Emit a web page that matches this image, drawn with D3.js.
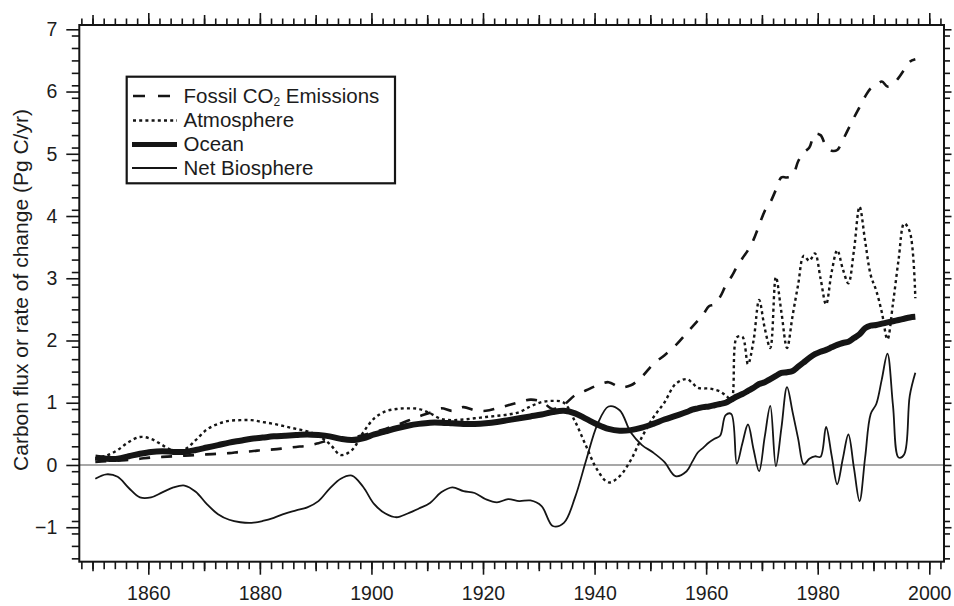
<!DOCTYPE html>
<html>
<head>
<meta charset="utf-8">
<script src="https://cdn.jsdelivr.net/npm/d3@7"></script>
<style>
  html, body { margin: 0; padding: 0; background: #fff; }
  svg { display: block; font-family: "Liberation Sans", Arial, Helvetica, sans-serif; }
</style>
</head>
<body>
<svg id="chart" width="954" height="606"></svg>
<script>
// Years: two-yearly reconstruction before 1957, annual afterwards
const years = [
  1850,1852,1854,1856,1858,1860,1862,1864,1866,1868,1870,1872,1874,1876,1878,
  1880,1882,1884,1886,1888,1890,1892,1894,1896,1898,1900,1902,1904,1906,1908,
  1910,1912,1914,1916,1918,1920,1922,1924,1926,1928,1930,1932,1934,1936,1938,
  1940,1942,1944,1946,1948,1950,1952,1954,1956,
  1957,1958,1959,1960,1961,1962,1963,1964,1965,1966,1967,1968,1969,1970,1971,
  1972,1973,1974,1975,1976,1977,1978,1979,1980,1981,1982,1983,1984,1985,1986,
  1987,1988,1989,1990,1991,1992,1993,1994,1995,1996,1997
];

// Fossil CO2 emissions (Pg C/yr)
const fossil = [
  0.05,0.06,0.07,0.08,0.10,0.12,0.13,0.14,0.15,0.16,0.17,0.18,0.19,0.21,0.22,
  0.24,0.25,0.27,0.29,0.31,0.35,0.40,0.41,0.44,0.48,0.53,0.58,0.64,0.71,0.78,
  0.84,0.91,0.87,0.93,0.88,0.87,0.91,0.96,1.01,1.05,1.02,0.90,0.97,1.12,1.20,
  1.28,1.33,1.25,1.28,1.42,1.62,1.76,1.92,2.12,
  2.22,2.32,2.42,2.55,2.58,2.70,2.88,3.02,3.18,3.32,3.45,3.62,3.85,4.08,4.22,
  4.42,4.62,4.62,4.65,4.88,5.02,5.10,5.32,5.30,5.12,5.05,5.06,5.22,5.40,5.58,
  5.75,5.92,6.05,6.10,6.16,6.08,6.12,6.22,6.35,6.48,6.52
];

// Atmospheric increase (Pg C/yr)
const atmosphere = [
  0.11,0.15,0.24,0.37,0.45,0.42,0.32,0.23,0.25,0.40,0.57,0.66,0.71,0.72,0.72,
  0.69,0.66,0.62,0.58,0.54,0.47,0.34,0.16,0.24,0.52,0.75,0.86,0.90,0.91,0.90,
  0.83,0.74,0.72,0.73,0.75,0.77,0.79,0.81,0.85,0.94,1.01,1.03,1.00,0.70,0.30,
  -0.08,-0.28,-0.18,0.08,0.45,0.76,1.00,1.30,1.38,
  1.32,1.24,1.23,1.23,1.21,1.18,1.12,1.05,2.05,2.06,1.62,2.00,2.65,2.20,1.88,
  3.02,2.45,1.88,2.40,2.90,3.36,3.28,3.40,3.00,2.58,3.10,3.45,3.15,2.92,3.45,
  4.15,3.60,3.05,2.80,2.45,2.02,2.60,3.30,3.88,3.75,2.68
];

// Ocean uptake (Pg C/yr)
const ocean = [
  0.12,0.10,0.10,0.14,0.18,0.21,0.22,0.21,0.21,0.24,0.28,0.32,0.36,0.39,0.42,
  0.44,0.46,0.47,0.48,0.49,0.48,0.46,0.42,0.40,0.43,0.49,0.54,0.59,0.63,0.66,
  0.68,0.68,0.67,0.66,0.66,0.67,0.69,0.72,0.75,0.78,0.81,0.85,0.87,0.83,0.74,
  0.65,0.58,0.55,0.56,0.60,0.66,0.73,0.79,0.85,
  0.89,0.91,0.93,0.94,0.96,0.98,1.00,1.05,1.10,1.14,1.19,1.24,1.30,1.33,1.38,
  1.43,1.48,1.49,1.51,1.58,1.65,1.72,1.78,1.82,1.85,1.89,1.93,1.96,1.98,2.04,
  2.10,2.20,2.24,2.25,2.27,2.29,2.31,2.33,2.35,2.37,2.38
];

// Net terrestrial biosphere flux (Pg C/yr)
const biosphere = [
  -0.22,-0.15,-0.19,-0.37,-0.52,-0.52,-0.44,-0.36,-0.33,-0.43,-0.63,-0.79,-0.88,-0.92,-0.93,
  -0.90,-0.85,-0.78,-0.73,-0.68,-0.58,-0.38,-0.22,-0.17,-0.35,-0.63,-0.78,-0.84,-0.78,-0.70,
  -0.61,-0.44,-0.36,-0.42,-0.45,-0.55,-0.60,-0.55,-0.58,-0.57,-0.66,-0.98,-0.93,-0.52,0.08,
  0.65,0.94,0.88,0.52,0.32,0.20,0.05,-0.18,-0.10,
  0.05,0.20,0.28,0.36,0.42,0.47,0.80,0.82,0.02,0.35,0.65,0.25,-0.10,0.45,0.95,
  -0.02,0.60,1.25,0.85,0.42,0.01,0.10,0.14,0.13,0.61,0.15,-0.31,0.10,0.49,-0.05,
  -0.58,0.12,0.82,0.98,1.38,1.79,0.95,0.12,0.17,1.11,1.48
];

const xTickLabels = [1860, 1880, 1900, 1920, 1940, 1960, 1980, 2000];
const yTickLabels = [-1, 0, 1, 2, 3, 4, 5, 6, 7];
const yLabel = "Carbon flux or rate of change (Pg C/yr)";

const seriesList = [
  { name: "Fossil CO2 Emissions", values: fossil,     width: 2.6, dash: "11,11" },
  { name: "Atmosphere",           values: atmosphere, width: 2.4, dash: "3,3.2" },
  { name: "Ocean",                values: ocean,      width: 6,   dash: null },
  { name: "Net Biosphere",        values: biosphere,  width: 1.8, dash: null }
];

// ---- layout ----
const frame = { left: 79.3, right: 944, top: 25, bottom: 561.7 };
const ink = "#151515";

const svg = d3.select("#chart");

const x = d3.scaleLinear().domain([1847.63, 2002.64]).range([frame.left, frame.right]);
const y = d3.scaleLinear().domain([-1.554, 7.069]).range([frame.bottom, frame.top]);

const evenYears = d3.range(1848, 2003, 2);
const decadeYears = evenYears.filter(v => v % 10 === 0 && v % 20 !== 0);
const fifthSteps = d3.range(-15, 71, 2).map(v => v / 10).filter(v => !Number.isInteger(v));

function styleAxis(g) {
  g.select(".domain").remove();
  g.selectAll("line").attr("stroke", ink).attr("stroke-width", 1.6);
  g.selectAll("text").attr("fill", "#1c1c1c").style("font-size", "19.5px");
}

// zero reference line
svg.append("line")
  .attr("x1", frame.left).attr("x2", frame.right)
  .attr("y1", y(0)).attr("y2", y(0))
  .attr("stroke", "#8a8a8a").attr("stroke-width", 1.5);

// bottom axis
svg.append("g").attr("transform", `translate(0,${frame.bottom})`)
  .call(d3.axisBottom(x).tickValues(evenYears).tickFormat("").tickSize(7.5)).call(styleAxis);
svg.append("g").attr("transform", `translate(0,${frame.bottom})`)
  .call(d3.axisBottom(x).tickValues(decadeYears).tickFormat("").tickSize(9.5)).call(styleAxis);
svg.append("g").attr("transform", `translate(0,${frame.bottom})`)
  .call(d3.axisBottom(x).tickValues(xTickLabels).tickFormat(d3.format("d")).tickSize(13).tickPadding(11))
  .call(styleAxis);

// top axis (ticks only)
svg.append("g").attr("transform", `translate(0,${frame.top})`)
  .call(d3.axisTop(x).tickValues(evenYears).tickFormat("").tickSize(6.5)).call(styleAxis);
svg.append("g").attr("transform", `translate(0,${frame.top})`)
  .call(d3.axisTop(x).tickValues(decadeYears).tickFormat("").tickSize(10)).call(styleAxis);
svg.append("g").attr("transform", `translate(0,${frame.top})`)
  .call(d3.axisTop(x).tickValues(xTickLabels).tickFormat("").tickSize(12)).call(styleAxis);

// left axis
svg.append("g").attr("transform", `translate(${frame.left},0)`)
  .call(d3.axisLeft(y).tickValues(fifthSteps).tickFormat("").tickSize(7.5)).call(styleAxis);
svg.append("g").attr("transform", `translate(${frame.left},0)`)
  .call(d3.axisLeft(y).tickValues(yTickLabels).tickFormat(d3.format("d")).tickSize(13).tickPadding(9))
  .call(styleAxis);

// right axis (ticks only)
svg.append("g").attr("transform", `translate(${frame.right},0)`)
  .call(d3.axisRight(y).tickValues(fifthSteps).tickFormat("").tickSize(6)).call(styleAxis);
svg.append("g").attr("transform", `translate(${frame.right},0)`)
  .call(d3.axisRight(y).tickValues(yTickLabels).tickFormat("").tickSize(7.5)).call(styleAxis);

// y axis title
svg.append("text")
  .attr("transform", `translate(27.5,290) rotate(-90)`)
  .attr("text-anchor", "middle")
  .attr("fill", "#1c1c1c")
  .style("font-size", "21px")
  .text(yLabel);

// series
const line = d3.line()
  .x(d => x(d.year + 0.5))
  .y(d => y(d.value))
  .curve(d3.curveCatmullRom.alpha(0.5));

const drawOrder = [3, 0, 1, 2];
drawOrder.forEach(i => {
  const s = seriesList[i];
  const pts = years.map((yr, k) => ({ year: yr, value: s.values[k] }));
  svg.append("path")
    .datum(pts)
    .attr("d", line)
    .attr("fill", "none")
    .attr("stroke", ink)
    .attr("stroke-width", s.width)
    .attr("stroke-linecap", "butt")
    .attr("stroke-linejoin", "round")
    .attr("stroke-dasharray", s.dash);
});

// frame
svg.append("rect")
  .attr("x", frame.left).attr("y", frame.top)
  .attr("width", frame.right - frame.left).attr("height", frame.bottom - frame.top)
  .attr("fill", "none").attr("stroke", ink).attr("stroke-width", 2);

// legend
const legend = svg.append("g");
legend.append("rect")
  .attr("x", 126.7).attr("y", 76.7).attr("width", 268.3).attr("height", 106.6)
  .attr("fill", "#fff").attr("stroke", ink).attr("stroke-width", 2.2);

const rowY = [95, 119.5, 143.5, 167];
seriesList.forEach((s, i) => {
  legend.append("line")
    .attr("x1", s.dash ? 133 : 132).attr("x2", 177)
    .attr("y1", rowY[i] + 1).attr("y2", rowY[i] + 1)
    .attr("stroke", ink)
    .attr("stroke-width", i === 2 ? 5 : s.width)
    .attr("stroke-dasharray", i === 0 ? "12,13" : s.dash);
  const t = legend.append("text")
    .attr("x", 183.5).attr("y", rowY[i] + 7.5)
    .attr("fill", "#1c1c1c")
    .style("font-size", "20.5px");
  if (i === 0) {
    t.append("tspan").text("Fossil CO");
    t.append("tspan").attr("dy", 3.5).style("font-size", "12px").text("2");
    t.append("tspan").attr("dy", -3.5).text(" Emissions");
  } else {
    t.text(s.name);
  }
});
</script>
</body>
</html>
